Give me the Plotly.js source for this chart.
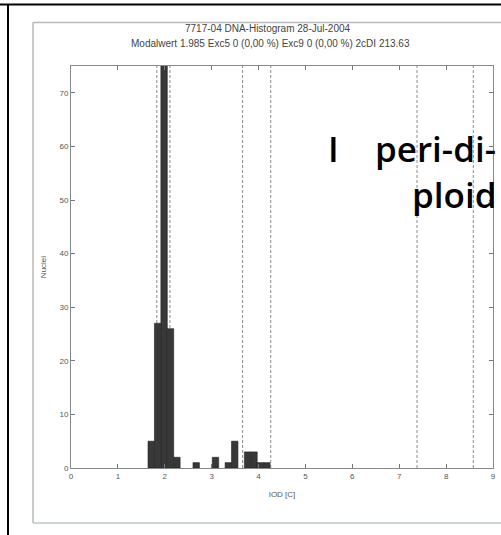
<!DOCTYPE html>
<html>
<head>
<meta charset="utf-8">
<script src="https://cdn.plot.ly/plotly-3.0.1.min.js"></script>
<style>
html,body{margin:0;padding:0;background:#fff;}
#chart{width:501px;height:535px;}
</style>
</head>
<body>
<div id="chart"></div>
<script>
// Histogram bins (IOD [C] bin centres) and nuclei counts
var binCenters = [1.711, 1.848, 1.985, 2.122, 2.259, 2.670, 3.081, 3.355, 3.492, 3.766, 3.903, 4.040, 4.177];
var counts     = [5, 27, 80, 26, 2, 1, 2, 1, 5, 3, 3, 1, 1];
var binWidth = 0.137;
// Dashed marker lines (IOD [C])
var thresholds = [1.83, 2.11, 3.66, 4.26, 7.38, 8.58];
// Axis ticks
var xTicks = [0,1,2,3,4,5,6,7,8,9];
var yTicks = [0,10,20,30,40,50,60,70];
var titleLines = ["7717-04 DNA-Histogram 28-Jul-2004",
                  "Modalwert 1.985 Exc5 0 (0,00 %) Exc9 0 (0,00 %) 2cDI 213.63"];
var noteText = ["I&nbsp;&nbsp;&nbsp;&nbsp;peri-di-", "ploid"];

var W = 501, H = 535;
var L = 71, R = 8, T = 66, B = 67;
function px(x){ return (x - L) / (W - L - R); }
function py(y){ return (H - B - y) / (H - T - B); }

var shapes = thresholds.map(function(v){
  return {type:'line', xref:'x', yref:'paper', x0:v, x1:v, y0:0, y1:1,
          line:{color:'#8a8a8a', width:1, dash:'3px,2px'}, layer:'below'};
});
// scanned page frames
shapes.push({type:'line', xref:'paper', yref:'paper', x0:px(0), x1:px(W), y0:py(4.5), y1:py(4.5), line:{color:'#000', width:2}});
shapes.push({type:'line', xref:'paper', yref:'paper', x0:px(8), x1:px(8), y0:py(4), y1:py(H), line:{color:'#000', width:2}});
shapes.push({type:'line', xref:'paper', yref:'paper', x0:px(33), x1:px(W), y0:py(22.5), y1:py(22.5), line:{color:'#b8b8b8', width:1.5}});
shapes.push({type:'line', xref:'paper', yref:'paper', x0:px(33), x1:px(33), y0:py(22.5), y1:py(523), line:{color:'#b8b8b8', width:1.5}});
shapes.push({type:'line', xref:'paper', yref:'paper', x0:px(33), x1:px(W), y0:py(523), y1:py(523), line:{color:'#b8c4c8', width:1.5}});

var data = [{
  type:'bar', x:binCenters, y:counts, width:binWidth,
  marker:{color:'#383838', line:{color:'#222', width:0.6}},
  hoverinfo:'x+y', cliponaxis:true
}];

var titleFont = {family:'Liberation Sans, Arial, sans-serif', size:10, color:'#444'};
var bigFont = {family:'Open Sans, DejaVu Sans, sans-serif', size:35, color:'#000', weight:600};

var layout = {
  width:W, height:H,
  margin:{l:L, r:R, t:T, b:B, pad:0},
  paper_bgcolor:'#fff', plot_bgcolor:'#fff',
  font:{family:'Liberation Sans, Arial, sans-serif', size:8, color:'#555'},
  showlegend:false,
  bargap:0,
  xaxis:{range:[0,9], tickvals:xTicks, ticktext:xTicks.map(String), ticks:'inside', ticklen:4,
         tickcolor:'#777', showline:true, linecolor:'#888', linewidth:1, mirror:'ticks',
         showgrid:false, zeroline:false, fixedrange:true,
         tickfont:{size:8, color:'#555'},
         title:{text:'IOD [C]', font:{size:8, color:'#555'}, standoff:11}},
  yaxis:{range:[0,75], tickvals:yTicks, ticktext:yTicks.map(String), ticks:'inside', ticklen:4,
         tickcolor:'#777', showline:true, linecolor:'#888', linewidth:1, mirror:'ticks',
         showgrid:false, zeroline:false, fixedrange:true,
         tickfont:{size:8, color:'#555'},
         title:{text:'Nuclei', font:{size:8, color:'#555'}, standoff:11}},
  shapes:shapes,
  annotations:[
    {text:titleLines[0], xref:'paper', yref:'paper', x:px(268), y:py(28), xanchor:'center', yanchor:'middle',
     showarrow:false, font:titleFont},
    {text:titleLines[1], xref:'paper', yref:'paper', x:px(270), y:py(44), xanchor:'center', yanchor:'middle',
     showarrow:false, font:titleFont},
    {text:noteText[0], xref:'paper', yref:'paper', x:px(498), y:py(148), xanchor:'right', yanchor:'middle',
     showarrow:false, font:bigFont},
    {text:noteText[1], xref:'paper', yref:'paper', x:px(498), y:py(194), xanchor:'right', yanchor:'middle',
     showarrow:false, font:bigFont}
  ]
};

Plotly.newPlot('chart', data, layout, {displayModeBar:false, staticPlot:true});
</script>
</body>
</html>
